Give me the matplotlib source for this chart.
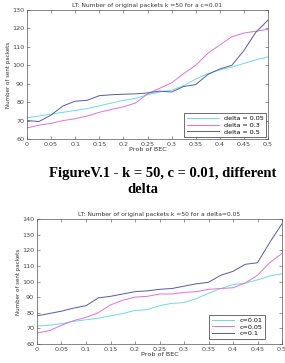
import matplotlib.pyplot as plt
import numpy as np

# x values: probability of BEC
prob = [0, 0.025, 0.05, 0.075, 0.1, 0.125, 0.15, 0.175, 0.2, 0.225, 0.25,
        0.275, 0.3, 0.325, 0.35, 0.375, 0.4, 0.425, 0.45, 0.475, 0.5]

# top chart: c = 0.01, different delta
delta_005 = [71.5, 72.5, 73.5, 74.5, 75.5, 76.5, 78, 79.5, 81, 82, 84,
             85.5, 86.5, 89, 92.5, 95.5, 97.5, 99, 101, 103, 104.5]
delta_03 = [66, 67.5, 68.5, 70, 71, 72.5, 74.5, 76, 77.5, 79.5, 84.5,
            87.5, 90.5, 95.5, 100, 106.5, 111, 115.5, 117.5, 118.5, 119.5]
delta_05 = [70, 69.5, 73, 78, 80.5, 81, 83.5, 84, 84.3, 84.5, 85,
            86, 85.5, 88.5, 89.5, 95, 98, 100, 108, 118, 124.5]

# bottom chart: delta = 0.05, different c
c_001 = [71.5, 72, 73, 74.5, 75.5, 76.5, 78, 79.5, 81.5, 82, 84.5,
         86, 86.5, 89, 92.5, 95.5, 98, 99, 101, 103.5, 105]
c_005 = [67, 68.5, 72, 75, 77, 80, 85, 88, 90, 90.5, 92,
         92, 93, 93.5, 95, 95.5, 96, 99, 104, 112, 118]
c_01 = [78, 79.5, 81, 83, 84.5, 89.5, 90.5, 92, 93.5, 94, 95,
        95.5, 97, 98.5, 99.5, 104, 106.5, 111, 112, 125, 137]

COLORS = ["#6adede", "#e070e0", "#5858a8"]
FS = 4.6

fig = plt.figure(figsize=(2.85, 3.63), dpi=100)


def style(ax, title, ylim):
    ax.set_xlim(0, 0.5)
    ax.set_ylim(*ylim)
    ax.set_xticks(np.arange(0, 0.51, 0.05))
    ax.set_xticklabels(["0", "0.05", "0.1", "0.15", "0.2", "0.25", "0.3",
                        "0.35", "0.4", "0.45", "0.5"])
    ax.set_yticks(np.arange(ylim[0], ylim[1] + 1, 10))
    ax.tick_params(direction="in", top=True, right=True, labelsize=FS,
                   length=2, width=0.4, pad=2, colors="#444444")
    for s in ax.spines.values():
        s.set_linewidth(0.5)
        s.set_color("#555555")
    ax.set_title(title, fontsize=4.3, pad=2, color="#333333")
    ax.set_xlabel("Prob of BEC", fontsize=FS, labelpad=0.5, color="#333333")
    ax.set_ylabel("Number of sent packets", fontsize=FS - 0.6, labelpad=1,
                  color="#333333")


ax1 = fig.add_axes([27 / 285, 1 - 139 / 363, 241 / 285, 129 / 363])
ax1.plot(prob, delta_005, color=COLORS[0], lw=0.7, label="delta = 0.05")
ax1.plot(prob, delta_03, color=COLORS[1], lw=0.7, label="delta = 0.3")
ax1.plot(prob, delta_05, color=COLORS[2], lw=0.7, label="delta = 0.5")
style(ax1, "LT: Number of original packets k =50 for a c=0.01", (60, 130))
leg = ax1.legend(loc="lower right", fontsize=FS, handlelength=5,
                 borderpad=0.4, labelspacing=0.2, fancybox=False,
                 framealpha=1, borderaxespad=0.3)
leg.get_frame().set_linewidth(0.5)
leg.get_frame().set_edgecolor("#333333")

fig.text(0.57, 1 - 173 / 363, "FigureV.1 - k = 50, c = 0.01, different",
         ha="center", va="center", fontsize=10.5, fontweight="bold",
         family="Liberation Serif")
fig.text(0.5, 1 - 190 / 363, "delta", ha="center", va="center",
         fontsize=10.5, fontweight="bold", family="Liberation Serif")

ax2 = fig.add_axes([37 / 285, 1 - 344 / 363, 245 / 285, 125 / 363])
ax2.plot(prob, c_001, color=COLORS[0], lw=0.7, label="c=0.01")
ax2.plot(prob, c_005, color=COLORS[1], lw=0.7, label="c=0.05")
ax2.plot(prob, c_01, color=COLORS[2], lw=0.7, label="c=0.1")
style(ax2, "LT: Number of original packets k =50 for a delta=0.05", (60, 140))
leg = ax2.legend(loc="lower right", bbox_to_anchor=(0.93, 0.04),
                 fontsize=FS, handlelength=3.5, borderpad=0.4,
                 labelspacing=0.2, fancybox=False, framealpha=1,
                 borderaxespad=0)
leg.get_frame().set_linewidth(0.5)
leg.get_frame().set_edgecolor("#333333")

plt.savefig("out.png", dpi=100)
